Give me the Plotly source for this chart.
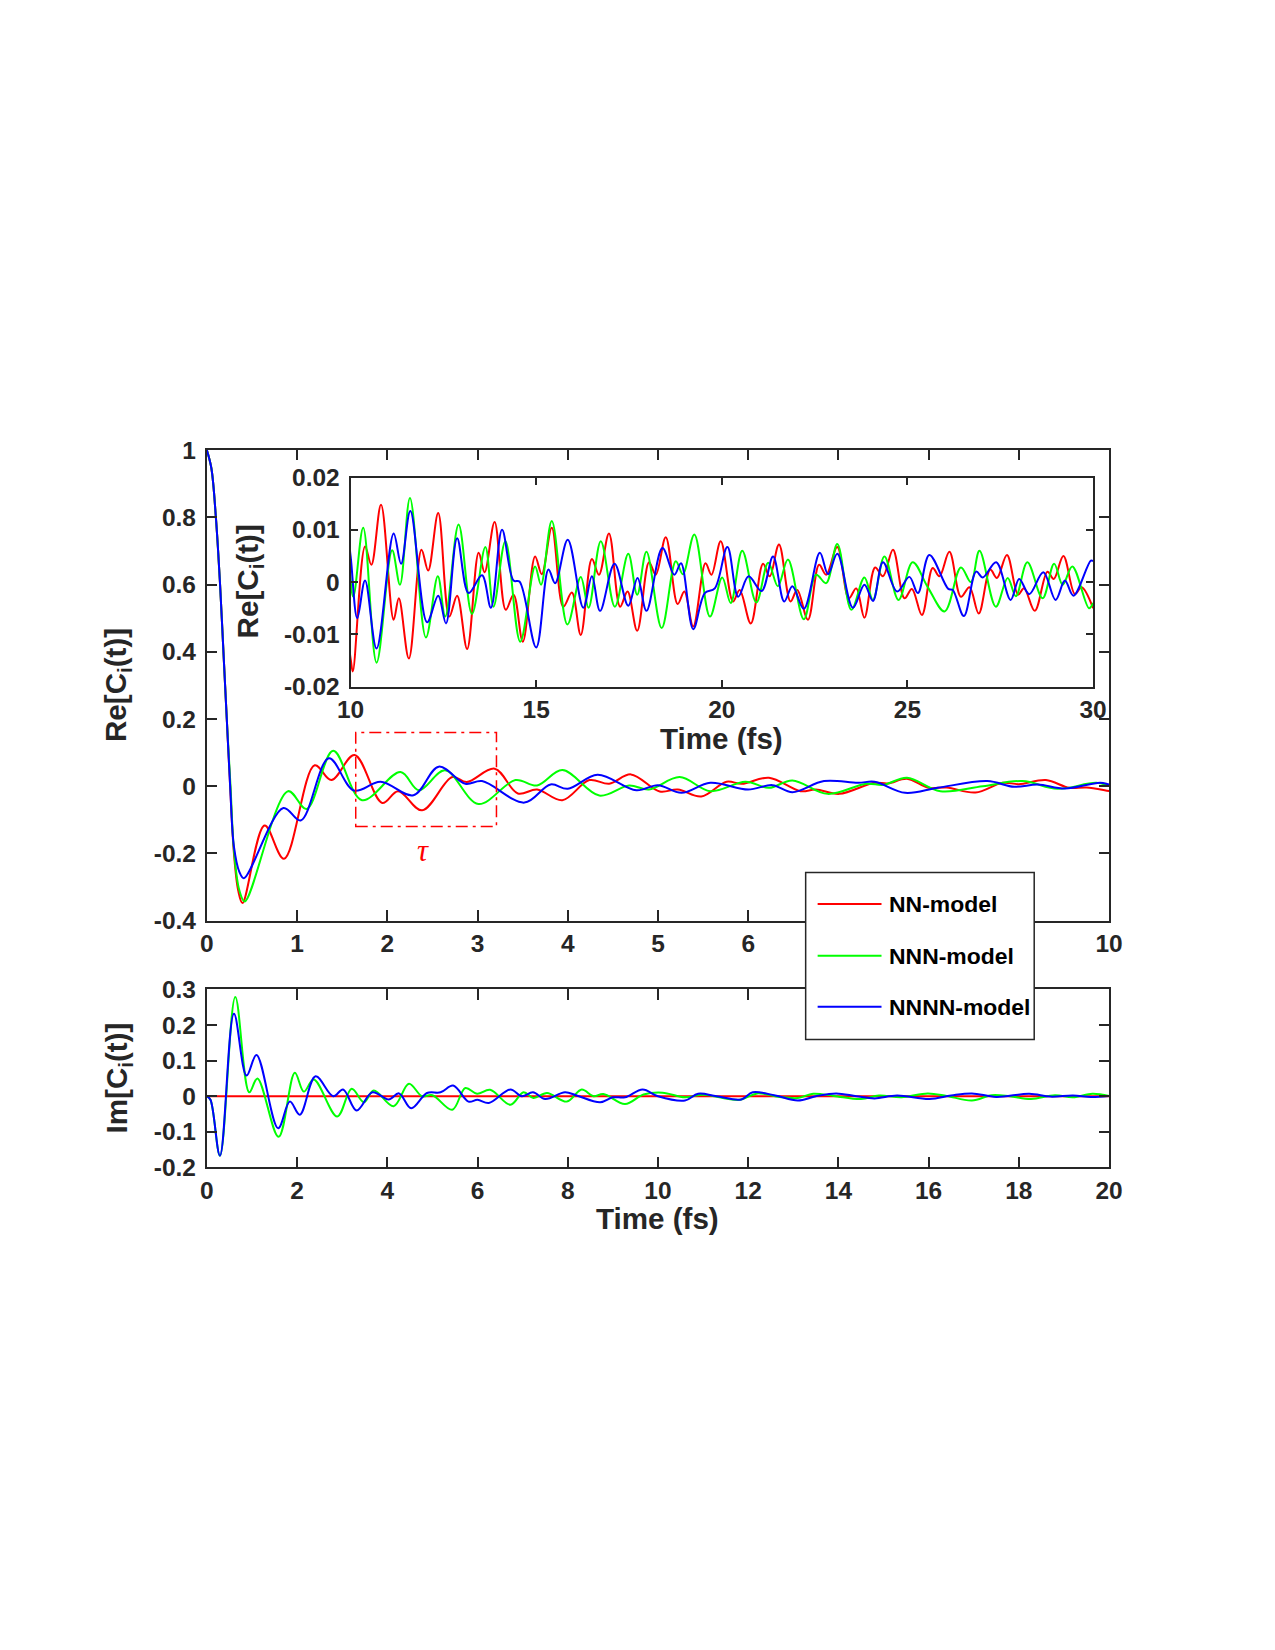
import plotly.graph_objects as go

W, H = 1275, 1650

series_names = ["NN-model", "NNN-model", "NNNN-model"]
series_colors = ["#FF0000", "#00FF00", "#0000FF"]

# ---------- Re[C_i(t)] : extrema (t in fs) ----------
re_nn_t = [0, 0.05, 0.1, 0.147, 0.184, 0.221, 0.258, 0.3, 0.347, 0.395, 0.64, 0.855, 1.195, 1.38, 1.637,
           1.943, 2.12, 2.386, 2.72, 2.88, 3.19, 3.447, 3.66, 3.94, 4.24, 4.46, 4.70, 5.02, 5.22, 5.48,
           5.76, 5.93, 6.23, 6.58, 6.75, 7.01, 7.40, 7.55, 7.76, 8.0, 8.2, 8.52, 8.82, 9.0, 9.3, 9.56,
           9.75, 10.0, 10.06, 10.39, 10.56, 10.82, 11.16, 11.3, 11.57, 11.91, 12.09, 12.36, 12.66, 12.87,
           13.14, 13.45, 13.61, 13.88, 14.18, 14.39, 14.64, 14.97, 15.15, 15.42, 15.73, 15.96, 16.2, 16.5,
           16.69, 16.96, 17.26, 17.46, 17.72, 18.04, 18.22, 18.49, 18.81, 18.99, 19.23, 19.56, 19.72,
           19.97, 20.30, 20.48, 20.78, 21.11, 21.29, 21.54, 21.85, 22.03, 22.32, 22.62, 22.81, 23.11,
           23.42, 23.62, 23.84, 24.13, 24.34, 24.61, 24.92, 25.12, 25.39, 25.68, 25.86, 26.13, 26.44,
           26.67, 26.92, 27.23, 27.41, 27.68, 27.98, 28.14, 28.43, 28.77, 28.94, 29.2, 29.51, 29.69, 30.0]
re_nn_v = [1.0, 0.946, 0.80, 0.597, 0.398, 0.199, 0.0, -0.2, -0.31, -0.348, -0.117, -0.216, 0.062, 0.018,
           0.093, -0.050, -0.015, -0.072, 0.027, 0.012, 0.052, -0.022, -0.01, -0.042, 0.018, 0.007, 0.035,
           -0.016, -0.01, -0.031, 0.013, 0.007, 0.025, -0.015, -0.01, -0.023, 0.01, 0.008, 0.022, -0.005,
           -0.004, -0.019, 0.01, 0.006, 0.018, -0.005, -0.004, -0.0146, -0.0171, 0.0068, 0.0033, 0.0148,
           -0.0072, -0.0031, -0.0146, 0.0062, 0.0022, 0.0132, -0.0066, -0.0026, -0.0128, 0.0056, 0.0019,
           0.0115, -0.0053, -0.0024, -0.0114, 0.0049, 0.0015, 0.0104, -0.0047, -0.002, -0.0101, 0.0044,
           0.0014, 0.0093, -0.0047, -0.0018, -0.0093, 0.0038, 0.0014, 0.0086, -0.0042, -0.0018, -0.0085,
           0.0036, 0.0014, 0.0078, -0.0037, -0.0015, -0.0079, 0.0035, 0.0011, 0.0072, -0.0037, -0.0015,
           -0.0072, 0.0033, 0.0014, 0.0067, -0.0031, -0.0012, -0.0068, 0.0028, 0.0011, 0.0062, -0.0031,
           -0.0013, -0.0063, 0.0027, 0.0011, 0.0058, -0.0028, -0.001, -0.006, 0.0024, 0.0008, 0.0052,
           -0.0024, -0.0012, -0.0055, 0.002, 0.0006, 0.005, -0.0023, -0.001, -0.005]

re_nnn_t = [0, 0.05, 0.1, 0.147, 0.184, 0.221, 0.262, 0.3, 0.36, 0.42, 0.90, 1.106, 1.40, 1.72, 2.146,
            2.35, 2.64, 3.01, 3.42, 3.66, 3.94, 4.35, 4.68, 4.9, 5.24, 5.58, 5.97, 6.23, 6.49, 6.88, 7.31,
            7.5, 7.76, 8.13, 8.6, 9.04, 9.43, 9.86, 10.07, 10.34, 10.70, 11.12, 11.33, 11.60, 12.03,
            12.35, 12.55, 12.91, 13.27, 13.63, 13.85, 14.17, 14.57, 14.97, 15.13, 15.42, 15.84, 16.2,
            16.41, 16.74, 17.12, 17.48, 17.72, 17.97, 18.38, 18.76, 18.95, 19.26, 19.68, 20.01, 20.24,
            20.55, 20.93, 21.25, 21.51, 21.78, 22.21, 22.54, 22.81, 23.11, 23.49, 23.84, 24.07, 24.38,
            24.76, 25.14, 25.55, 26.0, 26.44, 26.71, 26.94, 27.38, 27.70, 27.92, 28.23, 28.64, 28.95,
            29.18, 29.44, 29.89, 30.0]
re_nnn_v = [1.0, 0.946, 0.80, 0.597, 0.398, 0.199, 0.0, -0.19, -0.31, -0.343, -0.015, -0.068, 0.105,
            -0.042, 0.042, -0.012, 0.047, -0.053, 0.018, 0.002, 0.048, -0.028, 0.002, -0.01, 0.027, -0.015,
            0.013, -0.005, 0.017, -0.023, 0.007, 0.004, 0.025, -0.015, 0.0, 0.015, -0.008, 0.01, -0.0028,
            0.0104, -0.0154, 0.0061, -0.0005, 0.0161, -0.0106, 0.0011, -0.0066, 0.011, -0.0061, 0.0067,
            -0.0047, 0.0078, -0.0114, 0.003, -0.0005, 0.0117, -0.0081, 0.001, -0.0049, 0.0078, -0.0047,
            0.0054, -0.0024, 0.0058, -0.0088, 0.004, 0.0015, 0.0091, -0.0066, 0.0009, -0.004, 0.006,
            -0.0039, 0.0037, -0.0008, 0.0043, -0.0071, 0.0014, -0.0002, 0.0073, -0.0053, 0.0009, -0.0034,
            0.0049, -0.0034, 0.0038, -0.001, -0.0056, 0.0028, 0.0, 0.006, -0.0047, 0.0008, -0.0027, 0.0038,
            -0.0031, 0.0035, -0.0005, 0.003, -0.005, -0.004]

re_nnnn_t = [0, 0.05, 0.1, 0.147, 0.184, 0.221, 0.258, 0.3, 0.36, 0.41, 0.848, 1.04, 1.353, 1.63, 1.925,
             2.29, 2.57, 2.865, 3.05, 3.52, 3.81, 4.0, 4.33, 4.76, 5.0, 5.26, 5.58, 6.0, 6.27, 6.49, 6.84,
             7.22, 7.4, 7.74, 8.1, 8.65, 8.95, 9.21, 9.51, 9.9, 10.0, 10.18, 10.39, 10.7, 11.16, 11.36,
             11.61, 12.06, 12.36, 12.57, 12.87, 13.18, 13.54, 13.78, 14.08, 14.39, 14.55, 15.0, 15.33,
             15.51, 15.85, 16.27, 16.5, 16.72, 17.11, 17.48, 17.73, 17.97, 18.4, 18.72, 18.9, 19.23, 19.54,
             19.81, 20.15, 20.44, 20.72, 21.07, 21.38, 21.68, 21.9, 22.21, 22.64, 22.86, 23.11, 23.53,
             23.84, 24.07, 24.34, 24.72, 25.05, 25.28, 25.59, 26.1, 26.22, 26.52, 26.85, 27.03, 27.39,
             27.78, 28.01, 28.28, 28.66, 28.99, 29.24, 29.47, 29.94, 30.0]
re_nnnn_v = [1.0, 0.946, 0.80, 0.597, 0.398, 0.199, 0.0, -0.18, -0.255, -0.274, -0.065, -0.102, 0.083,
             -0.013, 0.013, -0.027, 0.058, 0.007, 0.015, -0.049, 0.005, -0.008, 0.034, -0.012, 0.003, -0.02,
             0.01, -0.01, 0.003, -0.018, 0.015, 0.01, 0.013, -0.02, -0.005, 0.015, -0.002, 0.005, -0.007,
             0.01, 0.005, -0.0069, 0.0003, -0.0127, 0.0093, 0.0035, 0.0136, -0.0077, -0.0026, -0.0079,
             0.0084, -0.0021, 0.0013, -0.0049, 0.01, 0.0003, 0.0001, -0.0125, 0.0024, -0.0002, 0.0081,
             -0.0049, 0.0011, -0.0055, 0.0035, -0.0045, 0.0008, -0.0055, 0.0065, 0.0014, 0.0036, -0.009,
             -0.0021, -0.0012, 0.0067, -0.0028, 0.0011, -0.0017, 0.0049, -0.0037, -0.0008, -0.0051, 0.0056,
             0.0015, 0.0054, -0.0049, -0.0005, -0.0036, 0.0038, -0.0018, 0.001, -0.0021, 0.0052, -0.0013,
             -0.0015, -0.0065, 0.002, 0.0009, 0.0038, -0.0034, 0.0006, -0.0023, 0.0019, -0.0034, 0.0003,
             -0.0026, 0.0041, 0.004]

# ---------- Im[C_i(t)] ----------
im_nn_t = [0, 20]
im_nn_v = [0, 0]

im_nnn_t = [0, 0.08, 0.29, 0.63, 0.94, 1.12, 1.59, 1.95, 2.15, 2.37, 2.89, 3.21, 3.48, 3.7, 4.14, 4.48,
            4.77, 5.0, 5.44, 5.73, 5.99, 6.28, 6.73, 7.02, 7.24, 7.54, 7.98, 8.31, 8.57, 8.79, 9.27, 9.68,
            10.1, 10.6, 11.0, 11.81, 12.2, 12.7, 13.1, 13.44, 13.9, 14.5, 14.9, 15.4, 15.98, 16.4, 16.96,
            17.4, 17.8, 18.27, 18.8, 19.2, 19.63, 20]
im_nnn_v = [0, -0.01, -0.167, 0.279, 0.011, 0.05, -0.114, 0.066, 0.013, 0.047, -0.057, 0.021, -0.017,
            0.016, -0.028, 0.035, 0.0, 0.003, -0.038, 0.023, 0.007, 0.018, -0.024, 0.011, -0.005, 0.009,
            -0.015, 0.019, 0.0, 0.006, -0.022, 0.005, 0.01, -0.003, 0.004, -0.01, 0.008, -0.002, -0.005,
            0.007, 0.001, -0.008, 0.002, -0.003, 0.008, 0.001, -0.012, 0.003, 0.0, -0.008, 0.003, -0.003,
            0.007, 0.001]

im_nnnn_t = [0, 0.08, 0.29, 0.6, 0.88, 1.1, 1.58, 1.84, 2.06, 2.41, 2.8, 3.02, 3.32, 3.67, 4.03, 4.26,
             4.53, 4.88, 5.18, 5.46, 5.8, 6.0, 6.25, 6.73, 6.98, 7.23, 7.5, 7.94, 8.2, 8.72, 9.0, 9.27,
             9.66, 10.0, 10.6, 10.89, 11.3, 11.85, 12.1, 12.6, 13.1, 13.5, 13.95, 14.4, 14.8, 15.3, 16.02,
             16.5, 16.96, 17.5, 18.23, 18.7, 19.2, 19.6, 20]
im_nnnn_v = [0, -0.01, -0.167, 0.232, 0.058, 0.116, -0.09, -0.015, -0.052, 0.056, 0.0, 0.019, -0.04, 0.011,
             -0.009, 0.008, -0.034, 0.009, 0.011, 0.03, -0.015, -0.01, -0.019, 0.019, 0.0, 0.011, -0.008,
             0.011, 0.002, -0.017, -0.003, -0.003, 0.019, 0.0, -0.012, 0.007, 0.0, -0.009, 0.011, 0.002,
             -0.012, 0.0, 0.008, 0.0, -0.006, 0.002, -0.008, 0.002, 0.008, -0.002, 0.007, -0.001, 0.002,
             -0.002, 0.001]

# ---------- tick labels (7, 8, 9 of the top panel sit under the legend box) ----------
main_x_ticks = [0, 1, 2, 3, 4, 5, 6, 7, 8, 9, 10]
main_x_text = ["0", "1", "2", "3", "4", "5", "6", "", "", "", "10"]
main_y_ticks = [-0.4, -0.2, 0, 0.2, 0.4, 0.6, 0.8, 1]
main_y_text = ["-0.4", "-0.2", "0", "0.2", "0.4", "0.6", "0.8", "1"]
inset_x_ticks = [10, 15, 20, 25, 30]
inset_x_text = ["10", "15", "20", "25", "30"]
inset_y_ticks = [-0.02, -0.01, 0, 0.01, 0.02]
inset_y_text = ["-0.02", "-0.01", "0", "0.01", "0.02"]
im_x_ticks = [0, 2, 4, 6, 8, 10, 12, 14, 16, 18, 20]
im_x_text = ["0", "2", "4", "6", "8", "10", "12", "14", "16", "18", "20"]
im_y_ticks = [-0.2, -0.1, 0, 0.1, 0.2, 0.3]
im_y_text = ["-0.2", "-0.1", "0", "0.1", "0.2", "0.3"]

FONT = "Liberation Sans"
INK = "#262626"

# the rendered page comes out slightly shrunk about its centre; compensate
S = 0.98
CX, CY = W / 2, H / 2


def fx(px):
    return (CX + (px - CX) / S) / W


def fy(py):
    return 1 - (CY + (py - CY) / S) / H


def fs(size):
    return size / S


re_series = [(re_nn_t, re_nn_v), (re_nnn_t, re_nnn_v), (re_nnnn_t, re_nnnn_v)]
im_series = [(im_nn_t, im_nn_v), (im_nnn_t, im_nnn_v), (im_nnnn_t, im_nnnn_v)]

fig = go.Figure()
for (t, v), name, col in zip(re_series, series_names, series_colors):
    fig.add_trace(go.Scatter(x=t, y=v, mode="lines", name=name, xaxis="x", yaxis="y",
                             line=dict(color=col, width=2, shape="spline", smoothing=1.0),
                             showlegend=False))
for (t, v), name, col in zip(im_series, series_names, series_colors):
    fig.add_trace(go.Scatter(x=t, y=v, mode="lines", name=name, xaxis="x2", yaxis="y2",
                             line=dict(color=col, width=2, shape="spline", smoothing=1.0),
                             showlegend=False))
for (t, v), name, col in zip(re_series, series_names, series_colors):
    fig.add_trace(go.Scatter(x=t, y=v, mode="lines", name=name, xaxis="x3", yaxis="y3",
                             line=dict(color=col, width=2, shape="spline", smoothing=1.0),
                             showlegend=False))


def axis(domain, anchor, rng, tv, tt, ticklen=10, standoff=0):
    return dict(domain=domain, anchor=anchor, range=rng, tickmode="array", tickvals=tv, ticktext=tt,
                ticks="inside", ticklen=fs(ticklen), tickwidth=2, tickcolor=INK, showline=True,
                linewidth=2, linecolor=INK, mirror="ticks", showgrid=False, zeroline=False,
                ticklabelstandoff=standoff,
                tickfont=dict(family=FONT, size=fs(24), color=INK, weight="bold"), fixedrange=True)


main_xd = [fx(206), fx(1110)]
fig.update_layout(
    width=W, height=H, margin=dict(l=0, r=0, t=0, b=0), autosize=False,
    paper_bgcolor="white", plot_bgcolor="white", showlegend=False,
    xaxis=axis(main_xd, "y", [0, 10], main_x_ticks, main_x_text),
    yaxis=axis([fy(920.7), fy(452)], "x", [-0.4, 1], main_y_ticks, main_y_text, standoff=4),
    xaxis2=axis(main_xd, "y2", [0, 20], im_x_ticks, im_x_text),
    yaxis2=axis([fy(1166.7), fy(989.3)], "x2", [-0.2, 0.3], im_y_ticks, im_y_text, standoff=4),
    xaxis3=axis([fx(350), fx(1094)], "y3", [10, 30], inset_x_ticks, inset_x_text, ticklen=7),
    yaxis3=axis([fy(687.7), fy(479.3)], "x3", [-0.02, 0.02], inset_y_ticks, inset_y_text, ticklen=7,
                standoff=4),
)

title_font = dict(family=FONT, size=fs(29), color=INK, weight="bold")
ann = []
ann.append(dict(text="Re[C<sub>i</sub>(t)]", x=fx(117), y=fy(686), xref="paper", yref="paper",
                textangle=-90, showarrow=False, font=title_font, xanchor="center", yanchor="middle"))
ann.append(dict(text="Re[C<sub>i</sub>(t)]", x=fx(249), y=fy(583), xref="paper", yref="paper",
                textangle=-90, showarrow=False, font=title_font, xanchor="center", yanchor="middle"))
ann.append(dict(text="Time (fs)", x=fx(722), y=fy(739), xref="paper", yref="paper",
                showarrow=False, font=title_font, xanchor="center", yanchor="middle"))
ann.append(dict(text="Im[C<sub>i</sub>(t)]", x=fx(117), y=fy(1078), xref="paper", yref="paper",
                textangle=-90, showarrow=False, font=title_font, xanchor="center", yanchor="middle"))
ann.append(dict(text="Time (fs)", x=fx(658), y=fy(1218), xref="paper", yref="paper",
                showarrow=False, font=title_font, xanchor="center", yanchor="middle"))
ann.append(dict(text="τ", x=2.4, y=-0.194, xref="x", yref="y", showarrow=False,
                font=dict(family="Liberation Serif", size=fs(30), color="#FF0000", style="italic"),
                xanchor="center", yanchor="middle"))

shapes = []
shapes.append(dict(type="rect", xref="x", yref="y", x0=1.65, x1=3.21, y0=-0.12, y1=0.16,
                   line=dict(color="#FF0000", width=1.5, dash="12px,5px,3px,5px"), layer="above"))
# legend box
shapes.append(dict(type="rect", xref="paper", yref="paper", x0=fx(806), x1=fx(1035),
                   y0=fy(1039.3), y1=fy(872.7), fillcolor="white",
                   line=dict(color=INK, width=1.5), layer="above"))
leg_y = [904.3, 955.7, 1006.7]
for name, col, ly in zip(series_names, series_colors, leg_y):
    shapes.append(dict(type="line", xref="paper", yref="paper", x0=fx(818), x1=fx(882),
                       y0=fy(ly), y1=fy(ly), line=dict(color=col, width=2), layer="above"))
    ann.append(dict(text=name, x=fx(888), y=fy(ly), xref="paper", yref="paper", showarrow=False,
                    xanchor="left", yanchor="middle",
                    font=dict(family=FONT, size=fs(22.5), color="#000000", weight="bold")))

fig.update_layout(annotations=ann, shapes=shapes)
fig.write_html("out.html")
